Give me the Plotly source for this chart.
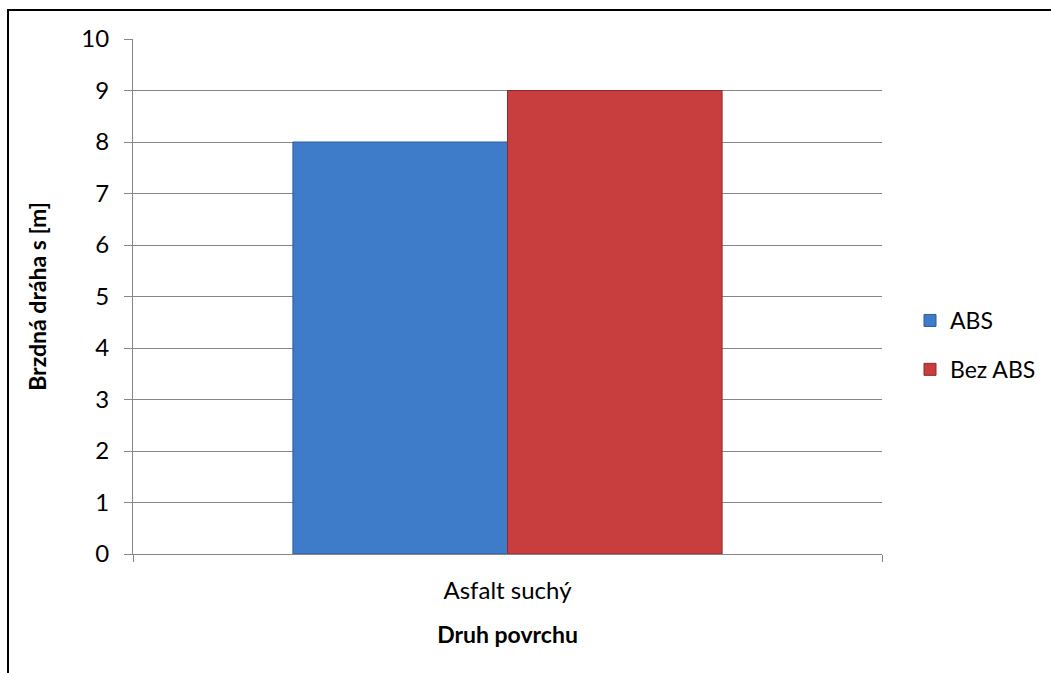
import plotly.graph_objects as go

categories = ["Asfalt suchý"]
abs_values = [8]
bez_abs_values = [9]
series_names = ["ABS", "Bez ABS"]
y_ticks = list(range(0, 11))

fig = go.Figure()
fig.add_trace(go.Bar(
    x=categories, y=abs_values, name=series_names[0], legendgroup="a",
    marker=dict(color="#3E7BC9", line=dict(color="#2E5C99", width=1)),
))
fig.add_trace(go.Bar(
    x=categories, y=bez_abs_values, name=series_names[1], legendgroup="b",
    marker=dict(color="#C83D3D", line=dict(color="#8E2A2A", width=1)),
))

L, R, T, B = 133, 882, 39, 554
W, H = 1051, 673
pw, ph = R - L, B - T

def px_x(x):
    return (x - L) / pw

def px_y(y):
    return (B - y) / ph

FS = 24

fig.update_layout(
    width=W, height=H,
    margin=dict(l=L, r=W - R, t=T, b=H - B, autoexpand=False),
    paper_bgcolor="white", plot_bgcolor="white",
    font=dict(family="Lato, Open Sans, sans-serif", size=FS, color="black"),
    barmode="group", bargap=0.427, bargroupgap=0,
    showlegend=True,
    legend=dict(x=px_x(910), y=px_y(345), xanchor="left", yanchor="middle",
                font=dict(size=FS - 1), traceorder="grouped", tracegroupgap=16,
                itemwidth=30, bgcolor="rgba(0,0,0,0)"),
    xaxis=dict(
        type="category", tickson="boundaries", ticks="outside", ticklen=7,
        tickcolor="#868686", showline=True, linecolor="#868686", linewidth=1,
        showgrid=False, tickfont=dict(size=FS), ticklabelstandoff=15,
        title=dict(text="<b>Druh povrchu</b>", font=dict(size=FS - 1), standoff=24),
        automargin=False,
    ),
    yaxis=dict(
        range=[0, 10], tickvals=y_ticks, ticks="outside", ticklen=8,
        tickcolor="#868686", showline=True, linecolor="#868686", linewidth=1,
        showgrid=True, gridcolor="#868686", gridwidth=1, zeroline=False,
        tickfont=dict(size=FS), ticklabelstandoff=10,
        title=dict(text="<b>Brzdná dráha s [m]</b>", font=dict(size=FS - 1), standoff=28),
        automargin=False,
    ),
    shapes=[dict(
        type="rect", xref="paper", yref="paper",
        x0=px_x(8), x1=px_x(1120), y0=px_y(720), y1=px_y(10),
        line=dict(color="black", width=2), fillcolor="rgba(0,0,0,0)", layer="above",
    )],
)

fig.write_html("out.html")
